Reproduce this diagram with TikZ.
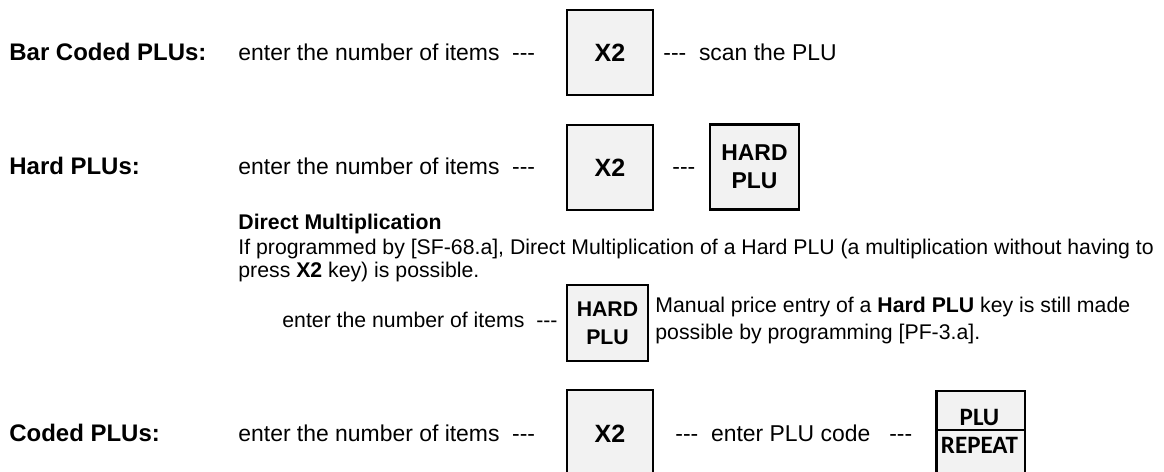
\documentclass[tikz,border=0pt]{standalone}
\usepackage{fontspec}
\setmainfont{Liberation Sans}
\newfontfamily\keyfont{Carlito}
\usetikzlibrary{positioning}
\definecolor{keygray}{RGB}{242,242,242}
\newcommand{\tripdash}{-{}-{}-}

\begin{document}
\begin{tikzpicture}[x=0.48pt, y=-0.48pt,
	rowlabel/.style={anchor=base west, inner sep=0pt, font=\fontsize{11.5}{14}\selectfont\bfseries},
	rowtext/.style={anchor=base west, inner sep=0pt, font=\fontsize{11}{13}\selectfont},
	note/.style={anchor=base west, inner sep=0pt, font=\fontsize{10.2}{12}\selectfont},
	key/.style={draw, line width=1.2pt, fill=keygray, inner sep=0pt, align=center,
		minimum width=41.3pt, minimum height=41pt, font=\fontsize{12}{14}\selectfont\bfseries}]
	\useasboundingbox (0,0) rectangle (1164,472);
	% bar coded PLUs
	\node[rowlabel] (barlabel) at (9,61) {Bar Coded PLUs:};
	\node[rowtext] (bartext) at (238,61) {enter the number of items\ \ \tripdash};
	\node[key] (barx) at (610,52.5) {X2};
	\node[rowtext] (barscan) at (663,61) {\tripdash\ \ scan the PLU};
	% hard PLUs
	\node[rowlabel] (hardlabel) at (9,175) {Hard PLUs:};
	\node[rowtext] (hardtext) at (238,175) {enter the number of items\ \ \tripdash};
	\node[key] (hardx) at (610,167.5) {X2};
	\node[rowtext] (harddash) at (672,175) {\tripdash};
	\node[key, minimum width=42.7pt, font=\fontsize{11}{13.4}\selectfont\bfseries] (hardkey) at (754.5,167) {HARD\\PLU};
	% direct multiplication
	\node[note, font=\fontsize{10.2}{12}\selectfont\bfseries] (dmhead) at (238,230) {Direct Multiplication};
	\node[note] (dmline) at (238,255) {If programmed by [SF-68.a], Direct Multiplication of a Hard PLU (a multiplication without having to};
	\node[note] (dmpress) at (238,278) {press \textbf{X2} key) is possible.};
	\node[note, anchor=base east] (dmtext) at (558,328) {enter the number of items\ \ \tripdash};
	\node[key, minimum width=38.9pt, minimum height=36.5pt, font=\fontsize{10.2}{13.4}\selectfont\bfseries] (dmkey) at (607.5,323) {HARD\\PLU};
	\node[note] (dmmanual) at (655,313) {Manual price entry of a \textbf{Hard PLU} key is still made};
	\node[note] (dmprog) at (655,340) {possible by programming [PF-3.a].};
	% coded PLUs
	\node[rowlabel] (codlabel) at (9,442) {Coded PLUs:};
	\node[rowtext] (codtext) at (238,442) {enter the number of items\ \ \tripdash};
	\node[key, minimum height=42.2pt] (codx) at (610,434) {X2};
	\node[rowtext] (codenter) at (675,442) {\tripdash\ \ enter PLU code\ \ \ \tripdash};
	\node[key, anchor=north west, minimum width=42.7pt, minimum height=48pt] (repkey) at (935,390) {};
	\coordinate (repmid) at (0,430);
	\draw[line width=1pt] (repkey.west |- repmid) -- (repkey.east |- repmid);
	\node[anchor=base, inner sep=0pt, font=\keyfont\fontsize{12}{14}\selectfont\bfseries] (repup) at (979.5,425) {PLU};
	\node[anchor=base, inner sep=0pt, font=\keyfont\fontsize{12}{14}\selectfont\bfseries] (replow) at (979.5,453) {REPEAT};
\end{tikzpicture}
\end{document}
